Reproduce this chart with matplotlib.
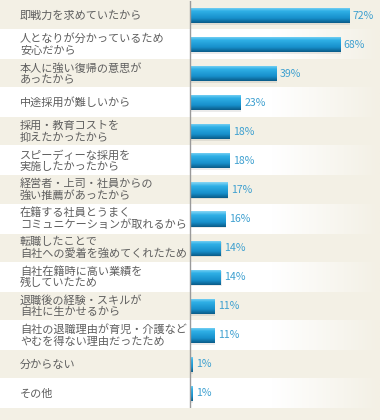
import matplotlib
matplotlib.use('Agg')
import matplotlib.pyplot as plt
import numpy as np
from matplotlib.colors import LinearSegmentedColormap

categories = [
    "即戦力を求めていたから",
    "人となりが分かっているため\n安心だから",
    "本人に強い復帰の意思が\nあったから",
    "中途採用が難しいから",
    "採用・教育コストを\n抑えたかったから",
    "スピーディーな採用を\n実施したかったから",
    "経営者・上司・社員からの\n強い推薦があったから",
    "在籍する社員とうまく\nコミュニケーションが取れるから",
    "転職したことで\n自社への愛着を強めてくれたため",
    "自社在籍時に高い業績を\n残していたため",
    "退職後の経験・スキルが\n自社に生かせるから",
    "自社の退職理由が育児・介護など\nやむを得ない理由だったため",
    "分からない",
    "その他",
]
values = [72, 68, 39, 23, 18, 18, 17, 16, 14, 14, 11, 11, 1, 1]
value_labels = [f"{v}%" for v in values]

plt.rcParams['font.family'] = ['Noto Sans CJK JP', 'DejaVu Sans']

BEIGE = '#f3f0e5'
fig = plt.figure(figsize=(3.8, 4.2), dpi=100)
fig.patch.set_facecolor(BEIGE)
ax = fig.add_axes([0, 12 / 420, 1, 407 / 420])
ax.set_facecolor(BEIGE)
n = len(categories)
XMIN, XMAX = -86, 86

band_cmap = LinearSegmentedColormap.from_list(
    'band', [(0, '#ffffff'), (0.72, '#ffffff'), (1, BEIGE)])
hgrad = np.linspace(0, 1, 256).reshape(1, -1)
for i in range(n):
    if i % 2 == 1:
        ax.imshow(hgrad, cmap=band_cmap, extent=(XMIN, XMAX, i + 0.5, i - 0.5),
                  aspect='auto', zorder=0, interpolation='bilinear')

ypos = np.arange(n)
# soft shadow
ax.barh(ypos + 0.06, values, height=0.52, left=0.3, color='#000000', alpha=0.08, zorder=1)
bars = ax.barh(ypos, values, height=0.52, color='#1e9ad6', zorder=2)
bar_cmap = LinearSegmentedColormap.from_list(
    'bar', [(0, '#8ad8f6'), (0.25, '#2fb0e6'), (0.7, '#178fcb'), (1, '#0a5a86')])
vgrad = np.linspace(0, 1, 256).reshape(-1, 1)
for b in bars:
    x0, y0 = b.get_x(), b.get_y()
    w, h = b.get_width(), b.get_height()
    im = ax.imshow(vgrad, cmap=bar_cmap, extent=(x0, x0 + w, y0 + h, y0),
                   aspect='auto', zorder=3, interpolation='bilinear')
    im.set_clip_path(b)

ax.plot([0, 0], [-0.5, n - 0.5], color='#9a9a9a', lw=1.0, zorder=4)

for i, (cat, v, lab) in enumerate(zip(categories, values, value_labels)):
    ax.text(-77, i, cat, va='center', ha='left', fontsize=8.0,
            color='#5e5e5e', linespacing=1.15, zorder=5)
    ax.text(v + 1.6, i, lab, va='center', ha='left', fontsize=7.6,
            color='#3ea0d0', zorder=5)

ax.set_xlim(XMIN, XMAX)
ax.set_ylim(n - 0.5, -0.5)
ax.axis('off')

fig.savefig('out.png', dpi=100, facecolor=BEIGE)
